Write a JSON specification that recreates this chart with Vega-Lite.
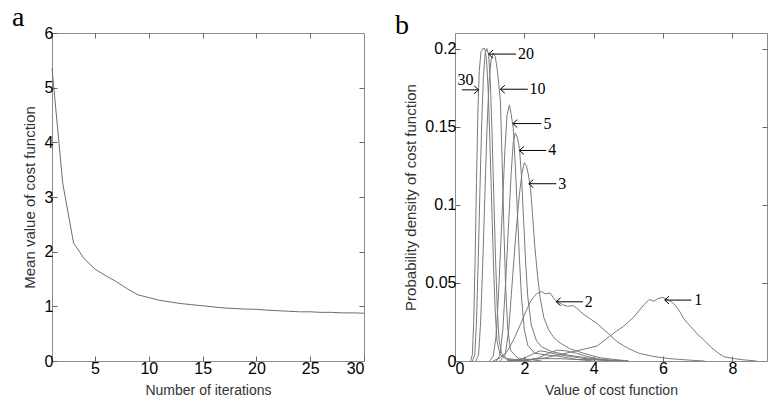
{
  "$schema": "https://vega.github.io/schema/vega-lite/v6.json",
  "background": "white",
  "padding": {"left": 11, "top": 3, "right": 0, "bottom": 0},
  "bounds": "flush",
  "spacing": 91,
  "config": {
    "view": {"stroke": "#8c8c8c", "strokeWidth": 1},
    "axis": {
      "domain": false, "grid": false, "tickColor": "#666", "tickSize": -5, "tickWidth": 1,
      "labelFont": "Liberation Sans", "labelFontSize": 16, "labelColor": "#000", "labelPadding": 4,
      "titleFont": "Liberation Sans", "titleFontSize": 15, "titleFontWeight": "normal", "titleColor": "#333"
    },
    "title": {"font": "Liberation Serif", "fontSize": 28, "fontWeight": "normal", "color": "#000", "anchor": "start", "frame": "group", "baseline": "alphabetic", "offset": -7}
  },
  "datasets": {
    "costMean": [
      {"iteration": 1, "mean": 5.35}, {"iteration": 2, "mean": 3.25}, {"iteration": 3, "mean": 2.16},
      {"iteration": 4, "mean": 1.87}, {"iteration": 5, "mean": 1.68}, {"iteration": 6, "mean": 1.56},
      {"iteration": 7, "mean": 1.45}, {"iteration": 8, "mean": 1.32}, {"iteration": 9, "mean": 1.21},
      {"iteration": 10, "mean": 1.16}, {"iteration": 11, "mean": 1.11}, {"iteration": 12, "mean": 1.08},
      {"iteration": 13, "mean": 1.05}, {"iteration": 14, "mean": 1.03}, {"iteration": 15, "mean": 1.01},
      {"iteration": 16, "mean": 0.99}, {"iteration": 17, "mean": 0.97}, {"iteration": 18, "mean": 0.96},
      {"iteration": 19, "mean": 0.95}, {"iteration": 20, "mean": 0.945}, {"iteration": 21, "mean": 0.93},
      {"iteration": 22, "mean": 0.92}, {"iteration": 23, "mean": 0.91}, {"iteration": 24, "mean": 0.9},
      {"iteration": 25, "mean": 0.9}, {"iteration": 26, "mean": 0.89}, {"iteration": 27, "mean": 0.89},
      {"iteration": 28, "mean": 0.88}, {"iteration": 29, "mean": 0.88}, {"iteration": 30, "mean": 0.875}
    ],
    "density": [
      {"s": "30", "x": 0.45, "y": 0}, {"s": "30", "x": 0.5, "y": 0.004}, {"s": "30", "x": 0.54, "y": 0.025},
      {"s": "30", "x": 0.58, "y": 0.065}, {"s": "30", "x": 0.62, "y": 0.115}, {"s": "30", "x": 0.66, "y": 0.16},
      {"s": "30", "x": 0.7, "y": 0.186}, {"s": "30", "x": 0.75, "y": 0.198}, {"s": "30", "x": 0.8, "y": 0.2},
      {"s": "30", "x": 0.86, "y": 0.2}, {"s": "30", "x": 0.91, "y": 0.193}, {"s": "30", "x": 0.96, "y": 0.172},
      {"s": "30", "x": 1.01, "y": 0.138}, {"s": "30", "x": 1.06, "y": 0.1}, {"s": "30", "x": 1.11, "y": 0.062},
      {"s": "30", "x": 1.16, "y": 0.032}, {"s": "30", "x": 1.21, "y": 0.013}, {"s": "30", "x": 1.3, "y": 0.004},
      {"s": "30", "x": 1.5, "y": 0.001}, {"s": "30", "x": 2.0, "y": 0},

      {"s": "20", "x": 0.5, "y": 0}, {"s": "20", "x": 0.57, "y": 0.004}, {"s": "20", "x": 0.62, "y": 0.025},
      {"s": "20", "x": 0.67, "y": 0.065}, {"s": "20", "x": 0.72, "y": 0.11}, {"s": "20", "x": 0.77, "y": 0.152},
      {"s": "20", "x": 0.82, "y": 0.182}, {"s": "20", "x": 0.87, "y": 0.197}, {"s": "20", "x": 0.92, "y": 0.2},
      {"s": "20", "x": 0.97, "y": 0.196}, {"s": "20", "x": 1.02, "y": 0.178}, {"s": "20", "x": 1.07, "y": 0.145},
      {"s": "20", "x": 1.12, "y": 0.105}, {"s": "20", "x": 1.17, "y": 0.065}, {"s": "20", "x": 1.22, "y": 0.033},
      {"s": "20", "x": 1.27, "y": 0.014}, {"s": "20", "x": 1.34, "y": 0.005}, {"s": "20", "x": 1.5, "y": 0.0015},
      {"s": "20", "x": 2.2, "y": 0},

      {"s": "10", "x": 0.6, "y": 0}, {"s": "10", "x": 0.68, "y": 0.004}, {"s": "10", "x": 0.74, "y": 0.025},
      {"s": "10", "x": 0.8, "y": 0.062}, {"s": "10", "x": 0.86, "y": 0.105}, {"s": "10", "x": 0.92, "y": 0.147},
      {"s": "10", "x": 0.98, "y": 0.178}, {"s": "10", "x": 1.04, "y": 0.193}, {"s": "10", "x": 1.1, "y": 0.197},
      {"s": "10", "x": 1.16, "y": 0.195}, {"s": "10", "x": 1.21, "y": 0.188}, {"s": "10", "x": 1.26, "y": 0.178},
      {"s": "10", "x": 1.31, "y": 0.166}, {"s": "10", "x": 1.36, "y": 0.128}, {"s": "10", "x": 1.41, "y": 0.085},
      {"s": "10", "x": 1.46, "y": 0.048}, {"s": "10", "x": 1.52, "y": 0.021}, {"s": "10", "x": 1.6, "y": 0.007},
      {"s": "10", "x": 1.8, "y": 0.002}, {"s": "10", "x": 2.5, "y": 0},

      {"s": "5", "x": 1.0, "y": 0}, {"s": "5", "x": 1.1, "y": 0.003}, {"s": "5", "x": 1.18, "y": 0.015},
      {"s": "5", "x": 1.25, "y": 0.04}, {"s": "5", "x": 1.32, "y": 0.075}, {"s": "5", "x": 1.38, "y": 0.105},
      {"s": "5", "x": 1.44, "y": 0.135}, {"s": "5", "x": 1.5, "y": 0.157}, {"s": "5", "x": 1.57, "y": 0.164},
      {"s": "5", "x": 1.62, "y": 0.158}, {"s": "5", "x": 1.68, "y": 0.149}, {"s": "5", "x": 1.74, "y": 0.125},
      {"s": "5", "x": 1.8, "y": 0.095}, {"s": "5", "x": 1.86, "y": 0.065}, {"s": "5", "x": 1.92, "y": 0.04},
      {"s": "5", "x": 2.0, "y": 0.02}, {"s": "5", "x": 2.1, "y": 0.01}, {"s": "5", "x": 2.3, "y": 0.005},
      {"s": "5", "x": 2.6, "y": 0.004}, {"s": "5", "x": 3.0, "y": 0.003}, {"s": "5", "x": 3.5, "y": 0.001},
      {"s": "5", "x": 4.0, "y": 0},

      {"s": "4", "x": 1.2, "y": 0}, {"s": "4", "x": 1.3, "y": 0.004}, {"s": "4", "x": 1.38, "y": 0.02},
      {"s": "4", "x": 1.46, "y": 0.05}, {"s": "4", "x": 1.54, "y": 0.085}, {"s": "4", "x": 1.62, "y": 0.12},
      {"s": "4", "x": 1.68, "y": 0.14}, {"s": "4", "x": 1.74, "y": 0.146}, {"s": "4", "x": 1.8, "y": 0.143},
      {"s": "4", "x": 1.86, "y": 0.136}, {"s": "4", "x": 1.92, "y": 0.118}, {"s": "4", "x": 1.98, "y": 0.09},
      {"s": "4", "x": 2.04, "y": 0.062}, {"s": "4", "x": 2.1, "y": 0.041}, {"s": "4", "x": 2.2, "y": 0.023},
      {"s": "4", "x": 2.35, "y": 0.013}, {"s": "4", "x": 2.5, "y": 0.009}, {"s": "4", "x": 2.8, "y": 0.006},
      {"s": "4", "x": 3.2, "y": 0.004}, {"s": "4", "x": 3.8, "y": 0.002}, {"s": "4", "x": 4.5, "y": 0},

      {"s": "3", "x": 1.3, "y": 0}, {"s": "3", "x": 1.45, "y": 0.004}, {"s": "3", "x": 1.55, "y": 0.02},
      {"s": "3", "x": 1.65, "y": 0.05}, {"s": "3", "x": 1.75, "y": 0.08}, {"s": "3", "x": 1.85, "y": 0.105},
      {"s": "3", "x": 1.93, "y": 0.12}, {"s": "3", "x": 2.0, "y": 0.127}, {"s": "3", "x": 2.06, "y": 0.125},
      {"s": "3", "x": 2.12, "y": 0.119}, {"s": "3", "x": 2.18, "y": 0.11}, {"s": "3", "x": 2.24, "y": 0.093},
      {"s": "3", "x": 2.3, "y": 0.074}, {"s": "3", "x": 2.38, "y": 0.055}, {"s": "3", "x": 2.46, "y": 0.04},
      {"s": "3", "x": 2.56, "y": 0.028}, {"s": "3", "x": 2.7, "y": 0.02}, {"s": "3", "x": 2.85, "y": 0.015},
      {"s": "3", "x": 3.0, "y": 0.012}, {"s": "3", "x": 3.3, "y": 0.008}, {"s": "3", "x": 3.7, "y": 0.005},
      {"s": "3", "x": 4.2, "y": 0.002}, {"s": "3", "x": 5.0, "y": 0},

      {"s": "2", "x": 1.1, "y": 0}, {"s": "2", "x": 1.3, "y": 0.002}, {"s": "2", "x": 1.5, "y": 0.006},
      {"s": "2", "x": 1.7, "y": 0.014}, {"s": "2", "x": 1.9, "y": 0.024}, {"s": "2", "x": 2.05, "y": 0.032},
      {"s": "2", "x": 2.2, "y": 0.039}, {"s": "2", "x": 2.35, "y": 0.043}, {"s": "2", "x": 2.5, "y": 0.0445},
      {"s": "2", "x": 2.6, "y": 0.043}, {"s": "2", "x": 2.75, "y": 0.0435}, {"s": "2", "x": 2.85, "y": 0.04},
      {"s": "2", "x": 2.95, "y": 0.038}, {"s": "2", "x": 3.1, "y": 0.036}, {"s": "2", "x": 3.25, "y": 0.035},
      {"s": "2", "x": 3.4, "y": 0.0355}, {"s": "2", "x": 3.5, "y": 0.034}, {"s": "2", "x": 3.7, "y": 0.03},
      {"s": "2", "x": 3.9, "y": 0.027}, {"s": "2", "x": 4.1, "y": 0.024}, {"s": "2", "x": 4.3, "y": 0.02},
      {"s": "2", "x": 4.5, "y": 0.016}, {"s": "2", "x": 4.7, "y": 0.012}, {"s": "2", "x": 5.0, "y": 0.008},
      {"s": "2", "x": 5.3, "y": 0.005}, {"s": "2", "x": 5.7, "y": 0.003}, {"s": "2", "x": 6.2, "y": 0.0015},
      {"s": "2", "x": 6.8, "y": 0.0005}, {"s": "2", "x": 7.2, "y": 0},

      {"s": "1", "x": 1.8, "y": 0}, {"s": "1", "x": 2.2, "y": 0.001}, {"s": "1", "x": 2.6, "y": 0.002},
      {"s": "1", "x": 3.0, "y": 0.004}, {"s": "1", "x": 3.4, "y": 0.006}, {"s": "1", "x": 3.8, "y": 0.008},
      {"s": "1", "x": 4.1, "y": 0.0096}, {"s": "1", "x": 4.3, "y": 0.013}, {"s": "1", "x": 4.45, "y": 0.0156},
      {"s": "1", "x": 4.65, "y": 0.019}, {"s": "1", "x": 4.85, "y": 0.022}, {"s": "1", "x": 5.0, "y": 0.025},
      {"s": "1", "x": 5.15, "y": 0.028}, {"s": "1", "x": 5.3, "y": 0.032}, {"s": "1", "x": 5.45, "y": 0.036},
      {"s": "1", "x": 5.6, "y": 0.0394}, {"s": "1", "x": 5.74, "y": 0.0383}, {"s": "1", "x": 5.85, "y": 0.04},
      {"s": "1", "x": 6.0, "y": 0.0407}, {"s": "1", "x": 6.15, "y": 0.039}, {"s": "1", "x": 6.3, "y": 0.037},
      {"s": "1", "x": 6.45, "y": 0.033}, {"s": "1", "x": 6.6, "y": 0.027}, {"s": "1", "x": 6.8, "y": 0.022},
      {"s": "1", "x": 7.0, "y": 0.017}, {"s": "1", "x": 7.2, "y": 0.013}, {"s": "1", "x": 7.4, "y": 0.0085},
      {"s": "1", "x": 7.6, "y": 0.005}, {"s": "1", "x": 7.75, "y": 0.0028}, {"s": "1", "x": 8.0, "y": 0.0017},
      {"s": "1", "x": 8.3, "y": 0.0008}, {"s": "1", "x": 8.7, "y": 0},

      {"s": "s1", "x": 1.5, "y": 0}, {"s": "s1", "x": 1.9, "y": 0.001}, {"s": "s1", "x": 2.1, "y": 0.003},
      {"s": "s1", "x": 2.3, "y": 0.005}, {"s": "s1", "x": 2.45, "y": 0.0065}, {"s": "s1", "x": 2.6, "y": 0.006},
      {"s": "s1", "x": 2.8, "y": 0.005}, {"s": "s1", "x": 3.0, "y": 0.004}, {"s": "s1", "x": 3.3, "y": 0.003},
      {"s": "s1", "x": 3.6, "y": 0.002}, {"s": "s1", "x": 4.0, "y": 0.001}, {"s": "s1", "x": 4.5, "y": 0},

      {"s": "s2", "x": 2.0, "y": 0}, {"s": "s2", "x": 2.4, "y": 0.002}, {"s": "s2", "x": 2.7, "y": 0.005},
      {"s": "s2", "x": 2.95, "y": 0.007}, {"s": "s2", "x": 3.2, "y": 0.0065}, {"s": "s2", "x": 3.5, "y": 0.005},
      {"s": "s2", "x": 3.8, "y": 0.003}, {"s": "s2", "x": 4.1, "y": 0.0015}, {"s": "s2", "x": 4.5, "y": 0.0005},
      {"s": "s2", "x": 5.0, "y": 0},

      {"s": "s3", "x": 1.5, "y": 0}, {"s": "s3", "x": 2.0, "y": 0.0008}, {"s": "s3", "x": 2.5, "y": 0.0015},
      {"s": "s3", "x": 3.0, "y": 0.0015}, {"s": "s3", "x": 3.5, "y": 0.001}, {"s": "s3", "x": 4.0, "y": 0.0008},
      {"s": "s3", "x": 5.0, "y": 0}
    ],
    "arrows": [
      {"label": "30", "tipX": 0.68, "tipY": 0.1736, "endX": 0.2, "textX": 0.3, "textY": 0.1796, "dir": "right"},
      {"label": "20", "tipX": 0.97, "tipY": 0.1965, "endX": 1.76, "textX": 1.82, "textY": 0.1965, "dir": "left"},
      {"label": "10", "tipX": 1.31, "tipY": 0.174, "endX": 2.1, "textX": 2.15, "textY": 0.174, "dir": "left"},
      {"label": "5", "tipX": 1.67, "tipY": 0.152, "endX": 2.49, "textX": 2.55, "textY": 0.152, "dir": "left"},
      {"label": "4", "tipX": 1.86, "tipY": 0.1348, "endX": 2.63, "textX": 2.69, "textY": 0.1348, "dir": "left"},
      {"label": "3", "tipX": 2.13, "tipY": 0.1135, "endX": 2.92, "textX": 2.98, "textY": 0.1135, "dir": "left"},
      {"label": "2", "tipX": 2.92, "tipY": 0.0379, "endX": 3.69, "textX": 3.74, "textY": 0.0379, "dir": "left"},
      {"label": "1", "tipX": 6.05, "tipY": 0.039, "endX": 6.82, "textX": 6.9, "textY": 0.039, "dir": "left"}
    ]
  },
  "hconcat": [
    {
      "width": 312, "height": 328,
      "title": {"text": "a", "dx": -40},
      "data": {"name": "costMean"},
      "layer": [
        {
          "mark": {"type": "line", "color": "#6e6e6e", "strokeWidth": 1},
          "encoding": {
            "x": {"field": "iteration", "type": "quantitative", "scale": {"domain": [1, 30], "nice": false, "zero": false},
                  "axis": {"values": [5, 10, 15, 20, 25, 30], "title": "Number of iterations", "titlePadding": 7, "titleFontSize": 14}},
            "y": {"field": "mean", "type": "quantitative", "scale": {"domain": [0, 6], "nice": false},
                  "axis": {"values": [0, 1, 2, 3, 4, 5, 6], "title": "Mean value of cost function", "titlePadding": 7}}
          }
        },
        {
          "mark": {"type": "line", "opacity": 0},
          "encoding": {
            "x": {"field": "iteration", "type": "quantitative", "axis": {"orient": "top", "values": [5, 10, 15, 20, 25], "labels": false, "title": null}},
            "y": {"field": "mean", "type": "quantitative", "axis": {"orient": "right", "values": [1, 2, 3, 4, 5], "labels": false, "title": null}}
          }
        }
      ],
      "resolve": {"axis": {"x": "independent", "y": "independent"}}
    },
    {
      "width": 312, "height": 328,
      "title": {"text": "b", "dx": -60},
      "layer": [
        {
          "data": {"name": "density"},
          "mark": {"type": "line", "color": "#7a7a7a", "strokeWidth": 1, "clip": true},
          "encoding": {
            "x": {"field": "x", "type": "quantitative", "scale": {"domain": [0, 9], "nice": false},
                  "axis": {"values": [0, 2, 4, 6, 8], "title": "Value of cost function", "titlePadding": 7, "titleFontSize": 14}},
            "y": {"field": "y", "type": "quantitative", "scale": {"domain": [0, 0.21], "nice": false},
                  "axis": {"values": [0, 0.05, 0.1, 0.15, 0.2], "format": "~g", "title": "Probability density of cost function", "titlePadding": 6}},
            "detail": {"field": "s"}
          }
        },
        {
          "data": {"name": "density"},
          "mark": {"type": "line", "opacity": 0},
          "encoding": {
            "x": {"field": "x", "type": "quantitative", "axis": {"orient": "top", "values": [2, 4, 6, 8], "labels": false, "title": null}},
            "y": {"field": "y", "type": "quantitative", "axis": {"orient": "right", "values": [0.05, 0.1, 0.15, 0.2], "labels": false, "title": null}},
            "detail": {"field": "s"}
          }
        },
        {
          "data": {"name": "arrows"},
          "mark": {"type": "rule", "color": "#000", "strokeWidth": 1},
          "encoding": {
            "x": {"field": "tipX", "type": "quantitative", "axis": null},
            "x2": {"field": "endX"},
            "y": {"field": "tipY", "type": "quantitative", "axis": null}
          }
        },
        {
          "data": {"name": "arrows"},
          "transform": [{"filter": "datum.dir === 'left'"}],
          "mark": {"type": "point", "shape": "M 1.1 -1 L 0 0 L 1.1 1", "size": 64, "filled": false, "color": "#000", "strokeWidth": 1, "opacity": 1},
          "encoding": {
            "x": {"field": "tipX", "type": "quantitative", "axis": null},
            "y": {"field": "tipY", "type": "quantitative", "axis": null}
          }
        },
        {
          "data": {"name": "arrows"},
          "transform": [{"filter": "datum.dir === 'right'"}],
          "mark": {"type": "point", "shape": "M -1.1 -1 L 0 0 L -1.1 1", "size": 64, "filled": false, "color": "#000", "strokeWidth": 1, "opacity": 1},
          "encoding": {
            "x": {"field": "tipX", "type": "quantitative", "axis": null},
            "y": {"field": "tipY", "type": "quantitative", "axis": null}
          }
        },
        {
          "data": {"name": "arrows"},
          "transform": [{"filter": "datum.dir === 'left'"}],
          "mark": {"type": "text", "align": "left", "baseline": "middle", "font": "Liberation Serif", "fontSize": 16, "color": "#000"},
          "encoding": {
            "x": {"field": "textX", "type": "quantitative", "axis": null},
            "y": {"field": "textY", "type": "quantitative", "axis": null},
            "text": {"field": "label"}
          }
        },
        {
          "data": {"name": "arrows"},
          "transform": [{"filter": "datum.dir === 'right'"}],
          "mark": {"type": "text", "align": "center", "baseline": "middle", "font": "Liberation Serif", "fontSize": 16, "color": "#000"},
          "encoding": {
            "x": {"field": "textX", "type": "quantitative", "axis": null},
            "y": {"field": "textY", "type": "quantitative", "axis": null},
            "text": {"field": "label"}
          }
        }
      ],
      "resolve": {"axis": {"x": "independent", "y": "independent"}}
    }
  ]
}
